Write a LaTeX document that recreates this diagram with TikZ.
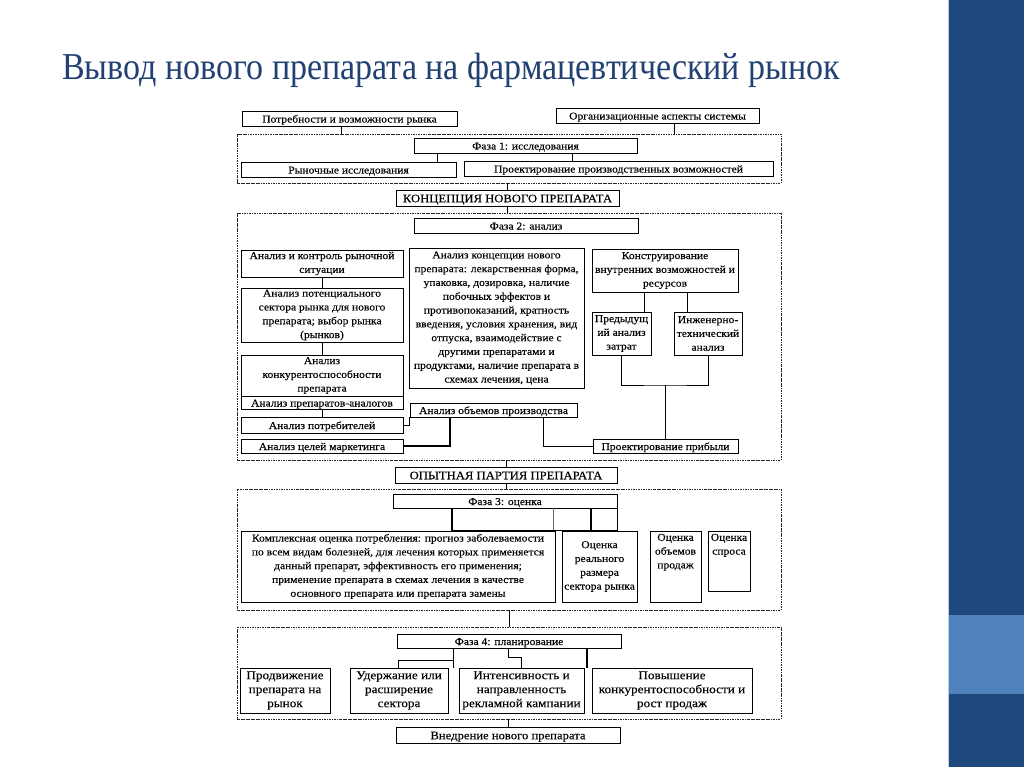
\documentclass[tikz,border=0pt]{standalone}
\usepackage{fontspec}
\newfontfamily\dgm[FakeStretch=1.1, FakeBold=0.15]{Liberation Serif}
\newfontfamily\ttl[FakeStretch=0.895]{Liberation Serif}

\definecolor{titleblue}{RGB}{33,64,115}
\definecolor{barblue}{RGB}{31,73,125}
\definecolor{barlight}{RGB}{79,129,189}

\pgfdeclareradialshading{slidebg}{\pgfpoint{0bp}{0bp}}{color(0bp)=(white); color(40bp)=(white); color(72bp)=(black!10)}

\tikzset{
  box/.style={draw, line width=0.8pt, inner sep=1pt, align=center,
    execute at begin node={\rule{0pt}{10.5pt}},
    font=\dgm\fontsize{10.5}{13.8}\selectfont},
  onebox/.style={draw, line width=0.8pt, inner sep=0pt, text height=8.5pt, text depth=0.5pt,
    font=\dgm\fontsize{10.5}{13.8}\selectfont},
  capsbox/.style={onebox, text height=9pt, font=\dgm\fontsize{11.5}{13}\selectfont},
  bigbox/.style={box, font=\dgm\fontsize{12}{14}\selectfont},
  phase/.style={draw=black!85, line width=0.8pt, dash pattern=on 2.5pt off 1pt on 0.6pt off 1pt},
  link/.style={line width=0.8pt},
  heavy/.style={line width=1.4pt}
}

\begin{document}
\begin{tikzpicture}[x=1pt, y=-1pt]
    \useasboundingbox (0,0) rectangle (1024,767);
    \shade[shading=slidebg] (0,0) rectangle (948,767);
    \fill[barblue] (948,0) rectangle (1024,767);
    \fill[barlight] (948,615) rectangle (1024,694);
    \draw[line width=1.2pt, barlight!40] (948.6,0) -- (948.6,767);

    \node[anchor=base west, inner sep=0, text=titleblue, font=\ttl\fontsize{38}{40}\selectfont] (title) at (62,80) {Вывод нового препарата на фармацевтический рынок};

    % phase 1
    \node[onebox, minimum width=215, minimum height=15] (needs) at (349.5,118.5) {Потребности и возможности рынка};
    \node[onebox, minimum width=203, minimum height=15] (orgasp) at (657.5,115.5) {Организационные аспекты системы};
    \node[phase, minimum width=544, minimum height=49] (f1) at (509,158.5) {};
    \node[onebox, minimum width=223, minimum height=15] (ph1) at (525.5,145.5) {Фаза 1: исследования};
    \node[onebox, minimum width=215, minimum height=15] (mres) at (348.5,169.5) {Рыночные исследования};
    \node[onebox, minimum width=309, minimum height=15] (prodcap) at (618.5,168.5) {Проектирование производственных возможностей};
    \node[capsbox, minimum width=223, minimum height=16] (concept) at (507.5,198) {КОНЦЕПЦИЯ НОВОГО ПРЕПАРАТА};

    \draw[link] (341,0 |- needs.south) -- (341,0 |- f1.north);
    \draw[link] (674,0 |- orgasp.south) -- (674,0 |- f1.north);
    \draw[link] (437,0 |- ph1.south) -- (437,0 |- mres.north);
    \draw[link] (572,0 |- ph1.south) -- (572,0 |- prodcap.north);
    \draw[link] (concept.north |- f1.south) -- (concept.north);

    % phase 2
    \node[phase, minimum width=544, minimum height=247] (f2) at (509,336.5) {};
    \draw[link] (concept.south) -- (concept.south |- f2.north);
    \node[onebox, minimum width=224, minimum height=15] (ph2) at (526,225.5) {Фаза 2: анализ};
    \node[box, minimum width=162, minimum height=27] (mkt) at (322,263.5) {Анализ и контроль рыночной\\ситуации};
    \node[box, minimum width=162, minimum height=54] (sector) at (322,315) {Анализ потенциального\\сектора рынка для нового\\препарата; выбор рынка\\(рынков)};
    \node[box, minimum width=162, minimum height=41] (compet) at (322,375.5) {Анализ\\конкурентоспособности\\препарата};
    \node[onebox, minimum width=162, minimum height=13] (analogs) at (322,402.5) {Анализ препаратов-аналогов};
    \node[onebox, minimum width=162, minimum height=16] (consum) at (322,425) {Анализ потребителей};
    \node[onebox, minimum width=162, minimum height=14] (goals) at (322,446) {Анализ целей маркетинга};
    \node[box, minimum width=175, minimum height=140] (concan) at (496.5,318) {Анализ концепции нового\\препарата: лекарственная форма,\\упаковка, дозировка, наличие\\побочных эффектов и\\противопоказаний, кратность\\введения, условия хранения, вид\\отпуска, взаимодействие с\\другими препаратами и\\продуктами, наличие препарата в\\схемах лечения, цена};
    \node[onebox, minimum width=167, minimum height=14] (volume) at (493.5,410) {Анализ объемов производства};
    \node[box, minimum width=146, minimum height=43] (constr) at (665,270.5) {Конструирование\\внутренних возможностей и\\ресурсов};
    \node[box, minimum width=59, minimum height=43] (prevcost) at (621.5,333.5) {Предыдущ\\ий анализ\\затрат};
    \node[box, minimum width=68, minimum height=43] (engin) at (708,333.5) {Инженерно-\\технический\\анализ};
    \node[onebox, minimum width=145, minimum height=14] (profit) at (665.5,446) {Проектирование прибыли};
    \coordinate (costjoin) at (profit.north |- 0,385);

    \draw[link] (mkt.south) -- (sector.north);
    \draw[link] (sector.south) -- (compet.north);
    \draw[link] (analogs.south) -- (consum.north);
    \draw[link] (consum.east) -| (volume.south west);
    \draw[heavy] (goals.east) -| (450,0 |- volume.south);
    \draw[link] (543,0 |- volume.south) |- (profit.west);
    \draw[link] (644,0 |- constr.south) -- (644,0 |- prevcost.north);
    \draw[link] (687,0 |- constr.south) -- (687,0 |- engin.north);
    \draw[link] (prevcost.south) |- (costjoin) -| (engin.south);
    \draw[link] (costjoin) -- (profit.north);

    % phase 3
    \node[capsbox, minimum width=222, minimum height=16] (trial) at (506,475) {ОПЫТНАЯ ПАРТИЯ ПРЕПАРАТА};
    \node[phase, minimum width=544, minimum height=121] (f3) at (509,549.5) {};
    \draw[link] (trial.north |- f2.south) -- (trial.north);
    \draw[link] (trial.south) -- (trial.south |- f3.north);
    \node[onebox, minimum width=224, minimum height=14] (ph3) at (505,501) {Фаза 3: оценка};
    \node[box, minimum width=314, minimum height=71] (complex) at (398,566.5) {Комплексная оценка потребления: прогноз заболеваемости\\по всем видам болезней, для лечения которых применяется\\данный препарат, эффективность его применения;\\применение препарата в схемах лечения в качестве\\основного препарата или препарата замены};
    \node[box, minimum width=75, minimum height=71] (realsize) at (599.5,566.5) {Оценка\\реального\\размера\\сектора рынка};
    \node[box, minimum width=51, minimum height=71, label={[anchor=north, align=center, inner sep=3pt, font=\dgm\fontsize{10.5}{13.8}\selectfont]north:{Оценка\\объемов\\продаж}}] (salesvol) at (675.5,566.5) {};
    \node[box, minimum width=42, minimum height=60, label={[anchor=north, align=center, inner sep=3pt, font=\dgm\fontsize{10.5}{13.8}\selectfont]north:{Оценка\\спроса}}] (demand) at (729,561) {};

    \draw[heavy] (452,0 |- ph3.south) -- (452,0 |- complex.north);
    \draw[line width=0.6pt, black!60] (553,0 |- ph3.south) -- (553,0 |- complex.north);
    \draw[heavy] (591,0 |- ph3.south) -- (591,0 |- realsize.north);
    \draw[heavy] (ph3.south east) -- (ph3.south east |- realsize.north);
    \draw[heavy] (452,0 |- complex.north) -- (ph3.south east |- realsize.north);

    % phase 4
    \node[phase, minimum width=544, minimum height=92] (f4) at (509,673) {};
    \draw[link] (f3.south) -- (f4.north);
    \node[onebox, minimum width=224, minimum height=14] (ph4) at (509,641) {Фаза 4: планирование};
    \node[bigbox, minimum width=90, minimum height=45] (promo) at (285,690.5) {Продвижение\\препарата на\\рынок};
    \node[bigbox, minimum width=98, minimum height=45] (retain) at (399,690.5) {Удержание или\\расширение\\сектора};
    \node[bigbox, minimum width=125, minimum height=45] (adint) at (521.5,690.5) {Интенсивность и\\направленность\\рекламной кампании};
    \node[bigbox, minimum width=160, minimum height=45] (compup) at (672,690.5) {Повышение\\конкурентоспособности и\\рост продаж};
    \node[capsbox, minimum width=224, minimum height=16] (innov) at (508,735) {Внедрение нового препарата};

    \draw[link] (453,0 |- ph4.south) -- (453,0 |- retain.north);
    \draw[link] (398,0 |- retain.north) |- (453,660);
    \draw[link] (508,0 |- ph4.south) |- (521.5,657) -- (adint.north);
    \draw[heavy] (587,0 |- ph4.south) -- (587,0 |- compup.north);
    \draw[link] (innov.north |- f4.south) -- (innov.north);
\end{tikzpicture}
\end{document}
